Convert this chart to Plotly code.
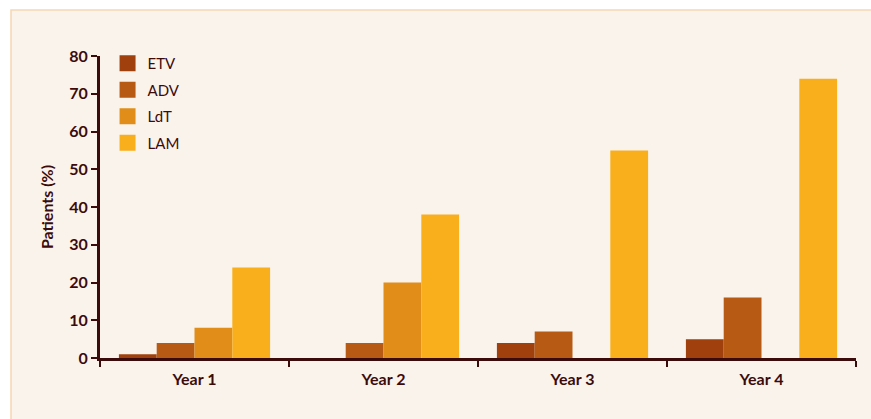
import plotly.graph_objects as go

# Cumulative resistance rates by treatment year
years = ["Year 1", "Year 2", "Year 3", "Year 4"]
etv = [1, None, 4, 5]
adv = [4, 4, 7, 16]
ldt = [8, 20, None, None]
lam = [24, 38, 55, 74]

series_names = ["ETV", "ADV", "LdT", "LAM"]
series_values = [etv, adv, ldt, lam]
series_colors = ["#a0410d", "#b65a14", "#e08e19", "#f9af1c"]

ink = "#3b0b0b"
cream = "#faf3ec"
font_family = "Lato, 'Open Sans', sans-serif"

fig = go.Figure()
for i, (name, vals, col) in enumerate(zip(series_names, series_values, series_colors)):
    fig.add_trace(go.Bar(
        name=name, x=years, y=vals,
        marker=dict(color=col, line=dict(width=0)),
        legendgroup=f"g{i}", showlegend=False,
    ))
    # Square swatch shown in the legend for this series
    fig.add_trace(go.Scatter(
        name=name, x=[None], y=[None], mode="markers",
        marker=dict(symbol="square", size=16, color=col, line=dict(width=0)),
        legendgroup=f"g{i}", showlegend=True, hoverinfo="skip",
    ))

# Cream panel behind the chart
fig.add_shape(
    type="rect", xref="paper", yref="paper",
    x0=-0.1177, x1=1.2, y0=-0.4, y1=1.1523,
    fillcolor=cream, line=dict(color="#f6d6b4", width=1.5),
    layer="below",
)

fig.update_layout(
    width=871, height=419,
    margin=dict(l=100, r=15, t=56, b=61),
    paper_bgcolor="white",
    plot_bgcolor="rgba(0,0,0,0)",
    barmode="group", bargap=0.2, bargroupgap=0,
    font=dict(family=font_family, color=ink),
    showlegend=True,
    legend=dict(
        x=0.01, y=1.03, xanchor="left", yanchor="top",
        bgcolor="rgba(0,0,0,0)",
        font=dict(size=15, color=ink),
        tracegroupgap=4,
    ),
    xaxis=dict(
        showline=True, linecolor=ink, linewidth=3,
        ticks="outside", tickson="boundaries", ticklen=6, tickwidth=1.5, tickcolor=ink,
        tickfont=dict(size=16, color=ink, weight="bold"),
        ticklabelstandoff=5,
        showgrid=False, zeroline=False,
    ),
    yaxis=dict(
        range=[0, 80], dtick=10,
        showline=True, linecolor=ink, linewidth=3,
        ticks="outside", ticklen=6, tickwidth=1.5, tickcolor=ink,
        tickfont=dict(size=16, color=ink, weight="bold"),
        showgrid=False, zeroline=False,
        title=dict(text="Patients (%)", font=dict(size=16, color=ink, weight="bold"), standoff=12),
    ),
)

fig.write_html("out.html")
